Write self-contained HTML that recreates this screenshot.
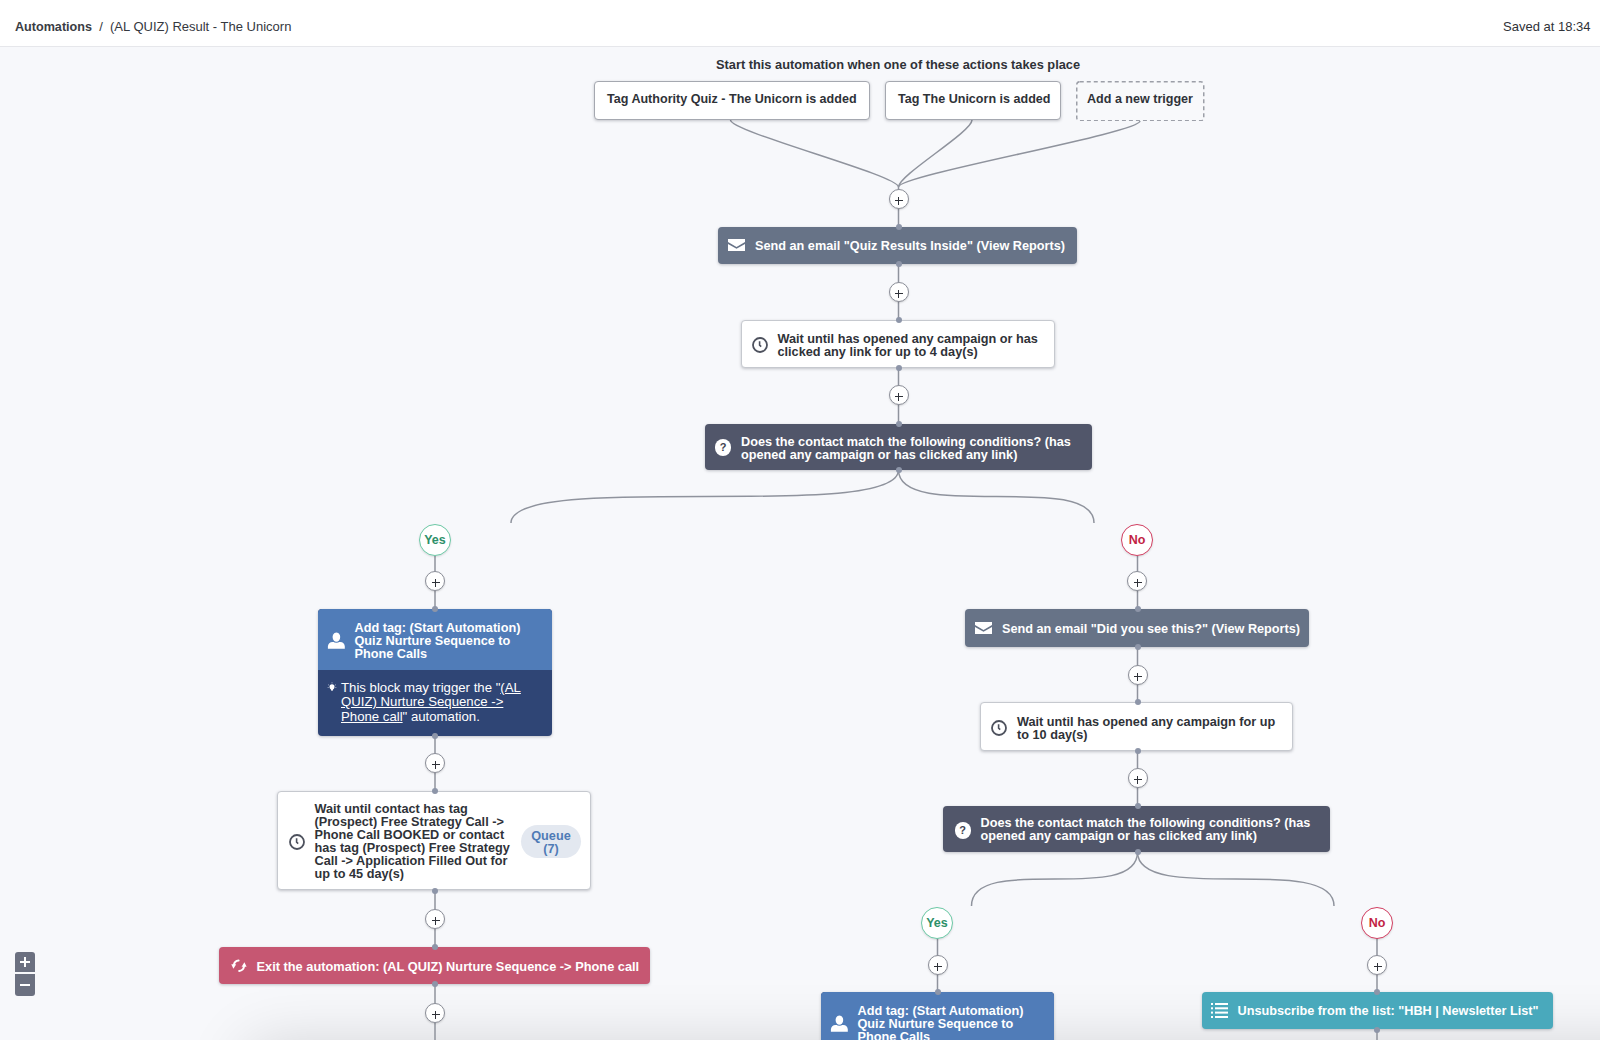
<!DOCTYPE html>
<html><head><meta charset="utf-8"><style>
*{box-sizing:border-box;margin:0;padding:0}
html,body{width:1600px;height:1040px;overflow:hidden;background:#f7f8fb;font-family:"Liberation Sans",sans-serif;color:#2f3238}
.hdr{position:absolute;left:0;top:0;width:1600px;height:47px;background:#fff;border-bottom:1px solid #e6e7eb}
.t{position:absolute;white-space:nowrap}
.node{position:absolute;border-radius:4px;box-shadow:0 1px 3px rgba(30,35,50,.25)}
.w{background:#fff;border:1px solid #c6c9cf}
.tx{position:absolute;white-space:nowrap;font-weight:bold;font-size:12.7px;line-height:13px}
.wt{color:#fff}
.plus{position:absolute;width:20px;height:20px;border-radius:50%;background:#fff;border:1.7px solid #8b8e98;box-shadow:0 1px 2px rgba(0,0,0,.15)}
.ph{position:absolute;background:#2e3138}
.yn{position:absolute;width:32px;height:32px;border-radius:50%;background:#fff;font-weight:bold;font-size:12.5px;text-align:center;line-height:30px;box-shadow:0 1px 2px rgba(0,0,0,.12)}
.yes{border:1.7px solid #6cc9a6;color:#2d9069}
.no{border:1.7px solid #d23f62;color:#c21f44}
.dot{position:absolute;width:6px;height:6px;border-radius:50%;background:#8d95a8}
</style></head><body>
<div style="position:absolute;left:250px;top:1046px;width:1500px;height:200px;background:#e4e5e8;box-shadow:0 0 60px 0 rgba(0,0,0,.16)"></div>
<svg style="position:absolute;left:0;top:0" width="1600" height="1040" fill="none" stroke="#8f939d" stroke-width="1.5">
<path d="M730.5 120C730.5 132 898.5 175 898.5 187"/>
<path d="M972 120C972 132 898.5 175 898.5 187"/>
<path d="M1140 121C1140 133 898.5 175 898.5 187"/>
<path d="M898.5 187V228"/>
<path d="M898.5 264V320"/>
<path d="M898.5 368V424"/>
<path d="M898.5 470C898.5 523 511 470 511 523"/>
<path d="M898.5 470C898.5 523 1094 470 1094 523"/>
<path d="M435 556V609"/>
<path d="M1137.5 556V609"/>
<path d="M435 736V792"/>
<path d="M435 890V947"/>
<path d="M435 984V1040"/>
<path d="M1137.5 647V703"/>
<path d="M1137.5 750V806"/>
<path d="M1137.5 852C1137.5 906 971.5 852 971.5 906"/>
<path d="M1137.5 852C1137.5 906 1334 852 1334 906"/>
<path d="M937.5 938V992"/>
<path d="M1377 938V1040"/>
</svg>
<div class="hdr"></div>
<div class="t" style="left:15px;top:18.5px;font-size:13px;line-height:16px;color:#35383e"><b style="font-size:12.6px;color:#3a3d44">Automations</b>&nbsp; /&nbsp; (AL QUIZ) Result - The Unicorn</div>
<div class="t" style="left:1503px;top:18.5px;font-size:13px;line-height:16px">Saved at 18:34</div>
<div class="t" style="left:716px;top:56.7px;font-size:12.8px;line-height:16px"><b>Start this automation when one of these actions takes place</b></div>
<div class="node w" style="left:594px;top:80.6px;width:275.5px;height:39.400000000000006px;border:1.5px solid #a5a8b0"></div>
<div class="tx" style="left:607px;top:91.8px;font-size:12.55px;line-height:14px">Tag Authority Quiz - The Unicorn is added</div>
<div class="node w" style="left:885px;top:81px;width:175.5px;height:38.5px;border:1.5px solid #a5a8b0"></div>
<div class="tx" style="left:898px;top:91.75px;font-size:12.55px;line-height:14px">Tag The Unicorn is added</div>
<svg style="position:absolute;left:1076px;top:80.5px" width="128.5" height="40.5"><rect x="0.75" y="0.75" width="127.0" height="39.0" rx="3" fill="#f8f9fb" stroke="#9c9fa8" stroke-width="1.5" stroke-dasharray="4 3"/></svg>
<div class="tx" style="left:1087px;top:92.25px;font-size:12.55px;line-height:14px">Add a new trigger</div>
<div class="plus" style="left:888.5px;top:189px"></div>
<div class="ph" style="left:894.5px;top:200px;width:8px;height:1.3px"></div>
<div class="ph" style="left:898px;top:196.5px;width:1.3px;height:8px"></div>
<div class="node" style="left:718px;top:226.5px;width:359px;height:37.0px;background:#677387"></div>
<svg style="position:absolute;left:727.5px;top:238.75px" width="17" height="12.5" viewBox="0 0 17 13" preserveAspectRatio="none"><path d="M0 0H17V3.2L8.5 8.2L0 3.2Z M0 5.2L8.5 10.2L17 5.2V13H0Z" fill="#fff"/></svg>
<div class="tx wt" style="left:755px;top:238.7px;font-size:12.7px;line-height:14px">Send an email "Quiz Results Inside" (View Reports)</div>
<div class="dot" style="left:895.5px;top:223.5px"></div>
<div class="dot" style="left:895.5px;top:260.5px"></div>
<div class="plus" style="left:888.5px;top:282px"></div>
<div class="ph" style="left:894.5px;top:293px;width:8px;height:1.3px"></div>
<div class="ph" style="left:898px;top:289.5px;width:1.3px;height:8px"></div>
<div class="node w" style="left:741px;top:319.5px;width:314px;height:48.0px"></div>
<svg style="position:absolute;left:750.7px;top:336.1px" width="18" height="18" viewBox="0 0 18 18" fill="none" stroke="#4d515d" stroke-width="1.8"><circle cx="9" cy="9" r="7"/><path d="M8.6 5.2V9.2L10.2 10.6" stroke-width="1.6"/></svg>
<div class="tx" style="left:777.5px;top:332.7px">Wait until has opened any campaign or has<br>clicked any link for up to 4 day(s)</div>
<div class="dot" style="left:895.5px;top:316.5px"></div>
<div class="dot" style="left:895.5px;top:364.5px"></div>
<div class="plus" style="left:888.5px;top:385px"></div>
<div class="ph" style="left:894.5px;top:396px;width:8px;height:1.3px"></div>
<div class="ph" style="left:898px;top:392.5px;width:1.3px;height:8px"></div>
<div class="node" style="left:705px;top:424px;width:387px;height:46px;background:#51566a"></div>
<div style="position:absolute;left:715.0px;top:439.3px;width:16.4px;height:16.4px;border-radius:50%;background:#fff;color:#3e4250;font-size:11px;line-height:16.4px;text-align:center;font-weight:bold">?</div>
<div class="tx wt" style="left:741px;top:435.5px">Does the contact match the following conditions? (has<br>opened any campaign or has clicked any link)</div>
<div class="dot" style="left:895.5px;top:421px"></div>
<div class="dot" style="left:895.5px;top:467px"></div>
<div class="yn yes" style="left:419px;top:524px">Yes</div>
<div class="plus" style="left:425px;top:571px"></div>
<div class="ph" style="left:431.5px;top:582px;width:8px;height:1.3px"></div>
<div class="ph" style="left:435px;top:578.5px;width:1.3px;height:8px"></div>
<div class="yn no" style="left:1121.0px;top:524px">No</div>
<div class="plus" style="left:1127.2px;top:571px"></div>
<div class="ph" style="left:1133.5px;top:582px;width:8px;height:1.3px"></div>
<div class="ph" style="left:1137px;top:578.5px;width:1.3px;height:8px"></div>
<div class="node" style="left:317.5px;top:609px;width:234.5px;height:126.5px;background:#2f4575;overflow:hidden"><div style="height:61px;background:#507cb8"></div></div>
<svg style="position:absolute;left:327.0px;top:631px" width="19" height="19" viewBox="0 0 19 19" fill="#fff"><path d="M0.9 17.65V15.5C0.9 12.8 3 11 5.5 11H13.3C15.8 11 17.8 12.8 17.8 15.5V17.65Z"/><ellipse cx="9.4" cy="6.1" rx="4.4" ry="5.2" stroke="#507cb8" stroke-width="1.1"/></svg>
<div class="tx wt" style="left:354.5px;top:622px">Add tag: (Start Automation)<br>Quiz Nurture Sequence to<br>Phone Calls</div>
<div class="dot" style="left:432px;top:606px"></div>
<svg style="position:absolute;left:326px;top:680px" width="12" height="12" viewBox="0 0 12 12"><circle cx="6" cy="6.8" r="2.5" fill="#fff"/><path d="M4 7.5L8 7.5L6.6 10.8H5.4Z" fill="#fff"/><path d="M2 4.5L3.2 5.4M10 4.5L8.8 5.4M1.6 7.5H2.8M10.4 7.5H9.2M6 2.2V3.4" stroke="#c8d0e0" stroke-width="0.9" opacity="0.7"/></svg>
<div class="tx wt" style="left:341px;top:681px;font-weight:normal;font-size:13.2px;line-height:14.3px">This block may trigger the "<u>(AL</u><br><u>QUIZ) Nurture Sequence -&gt;</u><br><u>Phone call</u>" automation.</div>
<div class="dot" style="left:432px;top:733px"></div>
<div class="plus" style="left:425px;top:753px"></div>
<div class="ph" style="left:431.5px;top:764px;width:8px;height:1.3px"></div>
<div class="ph" style="left:435px;top:760.5px;width:1.3px;height:8px"></div>
<div class="node w" style="left:276.8px;top:791.2px;width:314.7px;height:99.29999999999995px"></div>
<svg style="position:absolute;left:287.8px;top:832.5px" width="18" height="18" viewBox="0 0 18 18" fill="none" stroke="#4d515d" stroke-width="1.8"><circle cx="9" cy="9" r="7"/><path d="M8.6 5.2V9.2L10.2 10.6" stroke-width="1.6"/></svg>
<div class="tx" style="left:314.5px;top:803px">Wait until contact has tag<br>(Prospect) Free Strategy Call -&gt;<br>Phone Call BOOKED or contact<br>has tag (Prospect) Free Strategy<br>Call -&gt; Application Filled Out for<br>up to 45 day(s)</div>
<div class="dot" style="left:432px;top:788.2px"></div>
<div class="dot" style="left:432px;top:887.5px"></div>
<div style="position:absolute;left:521px;top:825px;width:60px;height:33px;border-radius:17px;background:#e3e8f0"></div>
<div class="t" style="left:521px;top:829.5px;width:60px;text-align:center;font-size:12.7px;line-height:13.3px;font-weight:bold;color:#4f7bb6">Queue<br>(7)</div>
<div class="plus" style="left:425px;top:908.5px"></div>
<div class="ph" style="left:431.5px;top:920px;width:8px;height:1.3px"></div>
<div class="ph" style="left:435px;top:916.5px;width:1.3px;height:8px"></div>
<div class="node" style="left:219px;top:946.5px;width:430.5px;height:37px;background:#c65772"></div>
<svg style="position:absolute;left:225px;top:952px" width="30" height="28" viewBox="0 0 30 28" fill="#fff"><path d="M13.6 8.6C11 8.9 9.3 10.6 8.9 12.6" fill="none" stroke="#fff" stroke-width="2" stroke-linecap="round"/><path d="M6.3 12.2L11.2 12.2L8.4 16.8Z"/><path d="M14.2 18.9C16.9 18.6 18.6 16.8 19.0 14.6" fill="none" stroke="#fff" stroke-width="2" stroke-linecap="round"/><path d="M16.6 14.8L21.6 14.8L19.4 10.2Z"/></svg>
<div class="tx wt" style="left:256.5px;top:960px;line-height:14px;font-size:12.8px">Exit the automation: (AL QUIZ) Nurture Sequence -&gt; Phone call</div>
<div class="dot" style="left:432px;top:944px"></div>
<div class="dot" style="left:432px;top:981px"></div>
<div class="plus" style="left:425px;top:1002.5px"></div>
<div class="ph" style="left:431.5px;top:1014px;width:8px;height:1.3px"></div>
<div class="ph" style="left:435px;top:1010.5px;width:1.3px;height:8px"></div>
<div class="node" style="left:965px;top:609px;width:344px;height:37.5px;background:#677387"></div>
<svg style="position:absolute;left:974.5px;top:621.5px" width="17" height="12.5" viewBox="0 0 17 13" preserveAspectRatio="none"><path d="M0 0H17V3.2L8.5 8.2L0 3.2Z M0 5.2L8.5 10.2L17 5.2V13H0Z" fill="#fff"/></svg>
<div class="tx wt" style="left:1002px;top:622.25px;font-size:12.7px;line-height:14px">Send an email "Did you see this?" (View Reports)</div>
<div class="dot" style="left:1134.5px;top:606px"></div>
<div class="dot" style="left:1134.5px;top:643.5px"></div>
<div class="plus" style="left:1127.5px;top:665px"></div>
<div class="ph" style="left:1133.5px;top:676px;width:8px;height:1.3px"></div>
<div class="ph" style="left:1137px;top:672.5px;width:1.3px;height:8px"></div>
<div class="node w" style="left:979.5px;top:702.3px;width:313.5px;height:48.5px"></div>
<svg style="position:absolute;left:990.3px;top:718.7px" width="18" height="18" viewBox="0 0 18 18" fill="none" stroke="#4d515d" stroke-width="1.8"><circle cx="9" cy="9" r="7"/><path d="M8.6 5.2V9.2L10.2 10.6" stroke-width="1.6"/></svg>
<div class="tx" style="left:1017px;top:715.5px">Wait until has opened any campaign for up<br>to 10 day(s)</div>
<div class="dot" style="left:1134.5px;top:699.3px"></div>
<div class="dot" style="left:1134.5px;top:747.8px"></div>
<div class="plus" style="left:1127.5px;top:768px"></div>
<div class="ph" style="left:1133.5px;top:779px;width:8px;height:1.3px"></div>
<div class="ph" style="left:1137px;top:775.5px;width:1.3px;height:8px"></div>
<div class="node" style="left:943px;top:806px;width:387px;height:46px;background:#51566a"></div>
<div style="position:absolute;left:954.5px;top:822.2px;width:16.4px;height:16.4px;border-radius:50%;background:#fff;color:#3e4250;font-size:11px;line-height:16.4px;text-align:center;font-weight:bold">?</div>
<div class="tx wt" style="left:980.5px;top:817.2px">Does the contact match the following conditions? (has<br>opened any campaign or has clicked any link)</div>
<div class="dot" style="left:1134.5px;top:803px"></div>
<div class="dot" style="left:1134.5px;top:849px"></div>
<div class="yn yes" style="left:921.0px;top:906.5px">Yes</div>
<div class="plus" style="left:927.5px;top:954.5px"></div>
<div class="ph" style="left:933.5px;top:966px;width:8px;height:1.3px"></div>
<div class="ph" style="left:937px;top:962.5px;width:1.3px;height:8px"></div>
<div class="yn no" style="left:1361px;top:906.5px">No</div>
<div class="plus" style="left:1367px;top:954.5px"></div>
<div class="ph" style="left:1373.5px;top:966px;width:8px;height:1.3px"></div>
<div class="ph" style="left:1377px;top:962.5px;width:1.3px;height:8px"></div>
<div class="node" style="left:820.5px;top:992px;width:233.5px;height:108px;background:#2f4575;overflow:hidden"><div style="height:68px;background:#507cb8"></div></div>
<svg style="position:absolute;left:830.0px;top:1014px" width="19" height="19" viewBox="0 0 19 19" fill="#fff"><path d="M0.9 17.65V15.5C0.9 12.8 3 11 5.5 11H13.3C15.8 11 17.8 12.8 17.8 15.5V17.65Z"/><ellipse cx="9.4" cy="6.1" rx="4.4" ry="5.2" stroke="#507cb8" stroke-width="1.1"/></svg>
<div class="tx wt" style="left:857.5px;top:1005px">Add tag: (Start Automation)<br>Quiz Nurture Sequence to<br>Phone Calls</div>
<div class="dot" style="left:934.5px;top:989px"></div>
<div class="node" style="left:1201.5px;top:991.5px;width:351px;height:37.7px;background:#49a9bc"></div>
<svg style="position:absolute;left:1211px;top:1003px" width="17" height="15" viewBox="0 0 17 15" fill="#fff"><rect x="0" y="0" width="2" height="2"/><rect x="4" y="0" width="13" height="2"/><rect x="0" y="4.3" width="2" height="2"/><rect x="4" y="4.3" width="13" height="2"/><rect x="0" y="8.6" width="2" height="2"/><rect x="4" y="8.6" width="13" height="2"/><rect x="0" y="13" width="2" height="2"/><rect x="4" y="13" width="13" height="2"/></svg>
<div class="tx wt" style="left:1237.5px;top:1004px;line-height:14px">Unsubscribe from the list: "HBH | Newsletter List"</div>
<div class="dot" style="left:1374px;top:989px"></div>
<div class="dot" style="left:1374px;top:1026.5px"></div>
<div style="position:absolute;left:15px;top:952px;width:20px;height:20px;border-radius:3px 3px 0 0;background:#6b7080"></div>
<div style="position:absolute;left:15px;top:974px;width:20px;height:22px;border-radius:0 0 3px 3px;background:#6b7080"></div>
<div style="position:absolute;left:20px;top:961px;width:10px;height:2px;background:#fff"></div>
<div style="position:absolute;left:24px;top:957px;width:2px;height:10px;background:#fff"></div>
<div style="position:absolute;left:20px;top:984px;width:10px;height:2px;background:#fff"></div>
</body></html>
